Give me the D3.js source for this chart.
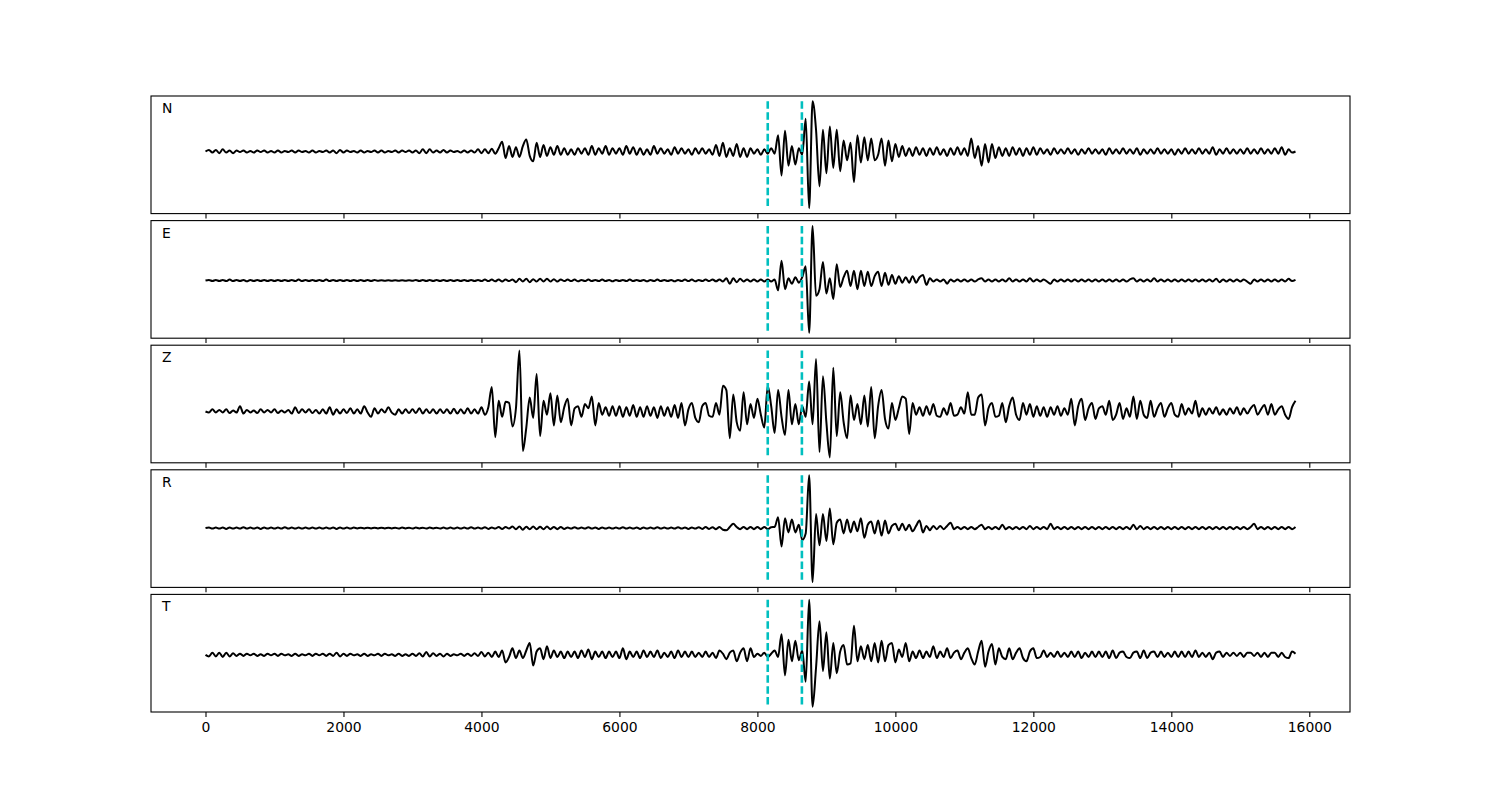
<!DOCTYPE html>
<html>
<head>
<meta charset="utf-8">
<script src="https://cdn.jsdelivr.net/npm/d3@7"></script>
<style>
  body { margin: 0; background: #fff; }
  svg { display: block; font-family: "DejaVu Sans", sans-serif; }
</style>
</head>
<body>
<svg id="chart" width="1500" height="800"></svg>
<script>
// samples are 50 units apart, starting at 0 (317 samples -> 0..15800)
const sampleStep = 50;
const channels = ["N", "E", "Z", "R", "T"];
const picks = [8150, 8645];
const xTicks = [0, 2000, 4000, 6000, 8000, 10000, 12000, 14000, 16000];

//Traces (amplitude, arbitrary units)
const traceN = [
  0, 1.5, -1, 1.5, -1.5, 2, -1, 1, -1.5, 1, -0.5, 1, -1, 0.5, -1, 1, -0.5, 1, -1, 0.5,
  -1, 1, -1, 0.5, -0.5, 1, -1, 1, -0.5, 0.5, -1, 1, -1, 0.5, -0.5, 1, -1, 1, -1.5, 1.5,
  -1, 1, -0.5, 0.5, -1, 1, -1, 0.5, -0.5, 1, -1, 1, -1, 0.5, -0.5, 1, -1, 1, -0.5, 1,
  -1, 1, -1.5, 2, -1.5, 2, -1, 1, -1, 1.5, -1, 1, -0.5, 0.5, -1, 1, -1, 1, -1, 2,
  -1.5, 2, -1.5, 2.5, -2, 3, 9, -6, 5, -5, 4, -5, 5, 11, -4, -9, 8, -5, 6, -4,
  4, -3, 5, -3, 3, -3, 2, -3, 3, -2, 3, -3, 5, -3, 3, -2, 5, -3, 3, -2,
  3, -3, 5, -2, 4, -3, 3, -3, 2, -3, 5, -2, 3, -2, 2, -3, 4, -2, 3, -2,
  2, -3, 3, -2, 3, -2, 2, -3, 6, -4, 8, -5, 3, -4, 7, -5, 3, -5, 3, -2,
  2, -3, 2, -2, 3, -2, 15, -22, 19, -13, 5, -12, 3, -3, 30, -52, 46, 20, -32, 20,
  -20, 23, -15, 20, -18, 10, -8, 8, -28, 15, -10, 13, -8, 12, -8, -3, 12, -13, 10, -9,
  7, -5, 5, -4, 3, -4, 4, -3, 3, -4, 3, -3, 4, -3, 2, -4, 3, -3, 4, -3,
  3, -4, 12, -6, 5, -13, 7, -10, 7, -6, 4, -4, 3, -4, 4, -3, 3, -4, 3, -3,
  4, -3, 3, -2, 2, -3, 3, -2, 2, -2, 3, -2, 2, -3, 2, -2, 3, -2, 2, -2,
  2, -3, 3, -2, 2, -2, 3, -2, 2, -2, 3, -3, 2, -2, 2, -2, 3, -2, 2, -2,
  2, -3, 2, -2, 3, -2, 2, -2, 3, -2, 2, -2, 4, -3, 2, -2, 3, -2, 2, -2,
  2, -2, 3, -2, 2, -2, 3, -2, 2, -2, 3, -2, 4, -3, 2, -1, 0
];

const traceE = [
  0, 0.5, -0.5, 0.5, -0.5, 0.5, -0.5, 0.8, -0.5, 0.5, -0.5, 0.5, -0.8, 0.5, -0.5, 0.5, -0.5, 0.5, -0.5, 0.5,
  -0.5, 0.5, -0.5, 0.5, -0.5, 0.5, -0.5, 0.8, -0.5, 0.5, -0.5, 0.5, -0.5, 0.5, -0.5, 0.8, -0.5, 0.5, -0.5, 0.5,
  -0.5, 0.5, -0.5, 0.5, -0.5, 0.5, -0.5, 0.5, -0.5, 0.5, -0.3, 0.3, -0.3, 0.3, -0.3, 0.3, -0.3, 0.3, -0.3, 0.3,
  -0.3, 0.5, -0.5, 0.5, -0.5, 0.5, -0.5, 0.5, -0.5, 0.5, -0.5, 0.5, -0.5, 0.5, -0.5, 0.5, -0.5, 0.5, -0.5, 0.5,
  -0.5, 0.8, -0.5, 0.8, -0.8, 1, -1, 0.8, -0.5, 1, -1.5, 1.5, -1, 1.5, -1.5, 1.2, -1, 1.5, -1, 1.5,
  -1, 1.2, -1, 1, -0.5, 0.8, -0.5, 0.8, -0.8, 0.5, -0.5, 0.8, -0.5, 0.5, -0.5, 0.8, -0.5, 0.5, -0.8, 0.5,
  -0.5, 0.5, -0.5, 0.8, -0.5, 0.5, -0.5, 0.5, -0.8, 0.5, -0.5, 0.8, -0.5, 0.5, -0.5, 0.5, -0.8, 0.5, -0.5, 0.8,
  -0.5, 0.8, -0.8, 0.5, -0.5, 0.8, -0.5, 1, -0.8, 1, -1, 2, -3, 2, -1.5, 1.5, -1, 1, -1, 1,
  -1, 0.8, -1, 1, -1, 0.8, -9, 18, -8, 2, -3, 3, -2, 3, 13, -48, 50, -14, -8, 17,
  -12, 2, -17, 15, -6, 3, 9, -5, 9, -8, 9, -5, 8, -5, 4, 8, -5, 7, -4, 5,
  -3, 4, -2, 3, -2, 4, -2, 3, 5, -4, 2, -1, 1, -1, 1, -3, 1, -1, 1, -1,
  1, -1, 1, -1, 1, 2, -1, 1, -1, 1, -1, 1, -1, 2, -1, 1, -1, 1, -1, 2,
  -1, 1, -1, 1, -1, -3, 1, -1, 1, -1, 1, -1, 1, -1, 1, -1, 1, -1, 1, -1,
  1, -1, 1, -1, 1, -1, 1, -1, 1, 2, -1, 1, -1, 1, -1, 2, -1, 1, -1, 1,
  -1, 1, -1, 1, -1, 1, -1, 1, -1, 1, -1, 1, -1, 1.5, -1.5, 1, -1, 1, -1, 1,
  -1, 1, -1, -3, 1, -1, 1, -1, 1, -1, 1, -1, 1, -1, 1.5, -0.5, 0.5
];

const traceZ = [
  0, -1, 2, -1, 1.5, -1, 2, -1.5, 1, -1, 5, -2, 1.5, -1, 1, -1.5, 2, -1, 1.5, -1,
  2, -1.5, 1, -1, 1.5, -2, 4, -1.5, 2, -1, 2, -1.5, 1.5, -2, 2, -2, 4, -3, 2, -2,
  2, -1.5, 3, -2, 2, -2, 5, -1, -5, 3, -2, 2, -1, 4, -1, -3, 2, -2, 2, -1.5,
  2, -1.5, 3, -2, 2, -1.5, 2, -2, 2, -1.5, 2, -2, 2.5, -2, 2, -2, 3, -2, 2, -2,
  4, -3, 4, 23, -24, 10, -5, 9, 8, -14, 3, 57, -37, -15, 13, -6, 35, -23, 10, -3,
  17, -13, 15, -10, 4, 12, -13, 3, 5, -5, 7, 3, 14, -13, 8, -3, 4, -4, 5, -4,
  5, -5, 4, -4, 6, -5, 4, -5, 5, -4, 4, -6, 5, -4, 4, -5, 6, -6, 8, -13,
  2, 8, -6, -10, 5, 8, -4, -5, 8, -3, 24, 20, -25, 16, -10, -18, 18, -12, 7, -6,
  12, -3, -15, 24, 5, -20, 20, -5, -22, 20, -12, 7, -12, 5, -5, 28, -12, 49, -38, 33,
  -10, -43, 41, -23, 18, -10, -25, 15, -8, 7, -12, 15, -14, 23, -25, 5, 20, -7, -16, 8,
  -8, 3, 14, 12, -21, 8, -3, 4, -4, 5, -3, 7, -4, -5, 3, -3, 8, -4, -3, 4,
  -2, 18, -3, -3, 13, 16, -13, 3, 8, -5, -4, 8, -10, 5, 13, -3, -8, 8, -3, 7,
  -5, 5, -4, 4, -5, 4, -3, 5, -4, 3, -3, 12, -13, 5, 12, -8, 3, 8, -7, 3,
  5, -3, 10, -8, -3, 8, -7, 3, -5, 14, -7, 10, -3, -6, 10, -5, 3, 8, -5, 3,
  8, -3, -5, 7, -3, 3, -2, 10, -5, 3, -3, 3, -2, 4, -3, 2, -3, 3, -2, 4,
  -3, 3, -2, 3, 6, -3, 2, 6, -3, 7, -3, 2, 5, -3, -7, 4, 10
];

const traceR = [
  0, 0.5, -0.5, 0.5, -0.5, 0.5, -0.8, 0.5, -0.5, 0.5, -0.5, 0.8, -0.5, 0.5, -0.5, 0.5, -0.8, 0.5, -0.5, 0.5,
  -0.5, 0.5, -0.5, 0.8, -0.5, 0.5, -0.5, 0.5, -0.5, 0.5, -0.5, 0.5, -0.5, 0.5, -0.5, 0.5, -0.5, 0.5, -0.8, 0.5,
  -0.5, 0.5, -0.5, 0.5, -0.3, 0.3, -0.3, 0.3, -0.3, 0.3, -0.3, 0.3, -0.3, 0.3, -0.3, 0.3, -0.5, 0.5, -0.3, 0.3,
  -0.5, 0.5, -0.3, 0.3, -0.5, 0.5, -0.3, 0.3, -0.5, 0.5, -0.5, 0.5, -0.5, 0.5, -0.5, 0.5, -0.5, 0.8, -0.5, 0.5,
  -0.5, 0.8, -0.8, 0.5, -0.5, 1, -0.8, 1, -0.5, 1.5, -1, 1.5, -1.5, 1.2, -1, 1.5, -1, 1.2, -1, 1.5,
  -1, 1, -1, 1, -0.8, 0.5, -0.5, 0.8, -0.5, 0.5, -0.5, 0.8, -0.5, 0.5, -0.8, 0.5, -0.5, 0.5, -0.5, 0.5,
  -0.5, 0.8, -0.5, 0.5, -0.5, 0.5, -0.8, 0.5, -0.5, 0.5, -0.5, 0.8, -0.5, 0.5, -0.5, 0.5, -0.5, 0.8, -0.5, 0.5,
  -0.8, 0.5, -0.5, 0.8, -0.8, 1, -0.8, 0.8, -1, 1, -1.5, -2, 1, 4, 1, -1, 1, -1, 1, -1,
  1, -1, 1, -1, 0.8, 1, 10, -17, 9, -4, 8, -4, 3, -11, -5, 49, -50, 13, -16, 13,
  -12, 18, -15, 5, 8, -5, 8, -4, 6, -3, 9, -9, 3, 6, -5, 7, -7, 7, -5, 2,
  4, -2, 4, -2, 3, -3, 2, 7, -4, 2, -2, 2, -1, 2, -1, 2, 5, -1, 1, -1,
  1, -1, 1, -1, 1, 3, -1, 1, -1, 1, -1, 3, -1, 1, -1, 1, -1, 1, -1, 2,
  -1, 1, -1, 1, -1, 4, -1, 1, -1, 1, -1, 1, -1, 1, -1, 1, -1, 1, -1, 1,
  -1, 1, -1, 1, -1, 1, -1, 1, -1, 3, -1, 2, -1, 1, -1, 1, -1, 1, -1, 1,
  -1, 1, -1, 1, -1, 1, -1, 1, -1, 1, -1, 1, -1, 1, -1, 1, -1, 1, -1, 1,
  -1, 1, -1, 1, 4, -1, 1, -1, 1, -1, 1, -1, 1, -1, 1, -1, 1
];

const traceT = [
  0, -1.5, 2, -1.5, 2, -2, 2, -1.5, 1.5, -1, 1, -1, 1, -0.5, 1, -1, 0.5, -1, 1, -0.5,
  1, -1, 1, -0.5, 0.5, -1, 1, -1, 0.5, -0.5, 1, -1, 1, -0.5, 1, -1, 1, -1, 2, -1.5,
  1, -1, 1, -0.5, 0.5, -1, 1, -1, 0.5, -0.5, 1, -1, 1, -0.5, 0.5, -1, 1, -1, 0.5, -1,
  1, -1, 1.5, -1.5, 2.5, -1.5, 1.5, -1, 1, -1.5, 1, -1, 0.5, -0.5, 1, -1, 1, -1, 1.5, -1,
  2.5, -1.5, 2, -2, 3, -2, 4, -7, -2, 6, -3, 4, -3, 4, 11, -10, 3, 6, -4, 8,
  -3, 4, -2, 3, -3, 3, -2, 3, -3, 4, -2, 5, -4, 3, -2, 3, -3, 3, -2, 3,
  -3, 6, -4, 3, -2, 3, -3, 4, -2, 3, -2, 4, -3, 2, -2, 3, -3, 4, -2, 3,
  -2, 3, -2, 2, -2, 3, -2, 2, -3, 4, 1, -4, 2, 4, -6, 2, 6, -6, 6, -2,
  1, -1, 2, -2, 1, 4, -2, 19, -19, 14, -6, 13, -5, 4, -25, 51, -48, -12, 31, -15,
  21, -22, 11, -17, 3, 9, -9, -8, 27, -6, 8, -4, 9, -6, 11, -7, 13, -6, 9, 11,
  -7, 5, -2, 11, -6, 3, -3, 4, -3, 3, -2, 8, -3, 3, -2, 6, -3, 2, 4, -4,
  2, 6, -3, -9, 3, 13, -11, 3, 10, -9, 6, -2, -4, 6, -4, 2, 6, -3, -6, 3,
  6, -3, -2, 4, -2, 2, -2, 3, -2, 2, -2, 3, -2, 3, -3, 2, -2, 3, -2, 3,
  -2, 3, -3, 4, -3, 2, 3, -2, -3, 2, 3, -3, 4, -3, 2, 3, -2, 3, -2, 2,
  -2, 3, -2, 3, -2, 3, -2, 4, -2, 2, -2, 2, -4, 2, 3, -2, 2, -1, 2, -1,
  2, -2, 2, 2, -1, 2, -2, 2, -2, 2, 2, -2, 2, -2, -3, 3, 1
];

const traces = [traceN, traceE, traceZ, traceR, traceT];

//Layout (matches a 15x8 inch figure at 100 dpi)
const margin = { top: 96, right: 150, bottom: 88, left: 151 };
const width = 1500 - margin.left - margin.right;
const gap = 7;
const panelH = (800 - margin.top - margin.bottom - gap * (channels.length - 1)) / channels.length;

const svg = d3.select("#chart");

const x = d3.scaleLinear()
  .domain([-790, 16590])
  .range([0, width]);

channels.forEach((name, k) => {
  const data = traces[k];
  const top = margin.top + k * (panelH + gap);
  const g = svg.append("g")
    .attr("transform", `translate(${margin.left},${top})`);

  const ext = d3.extent(data);
  const pad = (ext[1] - ext[0]) * 0.05;
  const y = d3.scaleLinear()
    .domain([ext[0] - pad, ext[1] + pad])
    .range([panelH, 0]);

  const line = d3.line()
    .x((d, i) => x(i * sampleStep))
    .y(d => y(d))
    .curve(d3.curveMonotoneX);

  g.append("path")
    .datum(data)
    .attr("fill", "none")
    .attr("stroke", "#000")
    .attr("stroke-width", 2)
    .attr("stroke-linejoin", "round")
    .attr("d", line);

  // picks as dashed vertical lines
  g.selectAll(".pick")
    .data(picks)
    .enter()
    .append("line")
    .attr("class", "pick")
    .attr("x1", d => x(d))
    .attr("x2", d => x(d))
    .attr("y1", y(ext[1]))
    .attr("y2", y(ext[0]))
    .attr("stroke", "#00bfbf")
    .attr("stroke-width", 2.6)
    .attr("stroke-dasharray", "7.5,3.3");

  // frame
  g.append("rect")
    .attr("width", width)
    .attr("height", panelH)
    .attr("fill", "none")
    .attr("stroke", "#000")
    .attr("stroke-width", 1.1);

  const axis = d3.axisBottom(x)
    .tickValues(xTicks)
    .tickSize(4.9)
    .tickPadding(4.9)
    .tickFormat(k === channels.length - 1 ? d3.format("d") : "");

  const ax = g.append("g")
    .attr("transform", `translate(0,${panelH})`)
    .call(axis);
  ax.select(".domain").remove();
  ax.selectAll("line").attr("stroke", "#000").attr("stroke-width", 1.1);
  ax.selectAll("text")
    .attr("fill", "#000")
    .style("font-family", "'DejaVu Sans', sans-serif")
    .style("font-size", "13.9px");

  g.append("text")
    .attr("x", 11)
    .attr("y", 17)
    .style("font-size", "13.9px")
    .attr("fill", "#000")
    .text(name);
});
</script>
</body>
</html>
